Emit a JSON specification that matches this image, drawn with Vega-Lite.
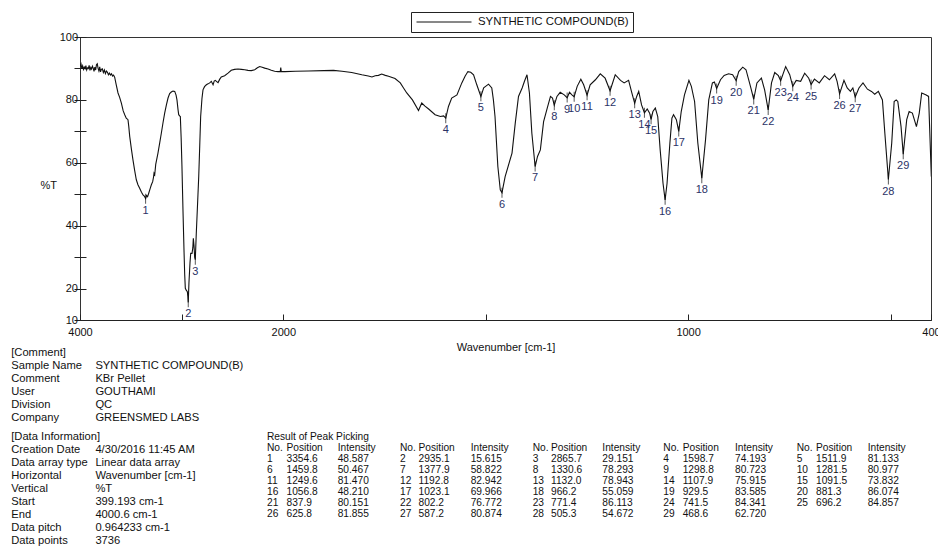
{
"$schema": "https://vega.github.io/schema/vega-lite/v6.json",
"width": 851, "height": 283,
"autosize": {"type": "none"},
"padding": {"left": 80, "top": 37, "right": 7, "bottom": 228},
"config": {"font": "Liberation Sans", "view": {"stroke": "#333", "strokeWidth": 1}, "axis": {"grid": false, "labelOverlap": false}},
"datasets": {
"spec": [{"w":4000,"t":90.6},{"w":3990,"t":91.4},{"w":3982,"t":89.9},{"w":3974,"t":90.8},{"w":3966,"t":89.7},{"w":3958,"t":90.4},{"w":3950,"t":89.9},{"w":3942,"t":90.9},{"w":3934,"t":89.5},{"w":3926,"t":90.2},{"w":3918,"t":90.0},{"w":3910,"t":91.0},{"w":3902,"t":89.4},{"w":3894,"t":90.3},{"w":3886,"t":89.8},{"w":3878,"t":90.7},{"w":3870,"t":90.1},{"w":3862,"t":89.1},{"w":3854,"t":90.4},{"w":3846,"t":89.5},{"w":3838,"t":91.2},{"w":3830,"t":91.5},{"w":3822,"t":90.0},{"w":3814,"t":89.2},{"w":3806,"t":90.5},{"w":3798,"t":88.9},{"w":3790,"t":89.7},{"w":3780,"t":89.9},{"w":3770,"t":88.7},{"w":3760,"t":89.5},{"w":3750,"t":88.4},{"w":3740,"t":89.2},{"w":3730,"t":88.8},{"w":3720,"t":88.0},{"w":3710,"t":88.5},{"w":3700,"t":87.9},{"w":3690,"t":88.3},{"w":3680,"t":87.6},{"w":3670,"t":87.9},{"w":3659,"t":87.2},{"w":3645,"t":85.0},{"w":3626,"t":82.2},{"w":3610,"t":80.8},{"w":3593,"t":79.0},{"w":3575,"t":76.5},{"w":3560,"t":75.3},{"w":3545,"t":74.2},{"w":3528,"t":73.7},{"w":3520,"t":71.5},{"w":3511,"t":68.4},{"w":3495,"t":64.5},{"w":3479,"t":60.9},{"w":3462,"t":57.5},{"w":3446,"t":54.6},{"w":3430,"t":53.0},{"w":3413,"t":51.9},{"w":3395,"t":50.6},{"w":3380,"t":49.8},{"w":3365,"t":49.3},{"w":3354.6,"t":48.6},{"w":3345,"t":49.6},{"w":3335,"t":49.2},{"w":3324,"t":50.3},{"w":3310,"t":51.8},{"w":3298,"t":53.0},{"w":3285,"t":54.0},{"w":3277,"t":55.4},{"w":3272,"t":56.7},{"w":3265,"t":56.2},{"w":3255,"t":59.5},{"w":3233,"t":63.1},{"w":3215,"t":66.5},{"w":3200,"t":69.4},{"w":3183,"t":72.8},{"w":3167,"t":75.8},{"w":3150,"t":78.4},{"w":3134,"t":80.6},{"w":3118,"t":82.0},{"w":3102,"t":82.5},{"w":3085,"t":82.8},{"w":3068,"t":82.7},{"w":3055,"t":81.5},{"w":3046,"t":80.0},{"w":3036,"t":77.0},{"w":3029,"t":75.3},{"w":3020,"t":74.9},{"w":3013,"t":74.7},{"w":3005,"t":68.0},{"w":2997,"t":58.8},{"w":2987,"t":45.0},{"w":2977,"t":32.3},{"w":2970,"t":24.5},{"w":2964,"t":20.1},{"w":2955,"t":19.5},{"w":2944,"t":19.0},{"w":2938,"t":17.0},{"w":2935.1,"t":15.6},{"w":2928,"t":22.0},{"w":2918,"t":28.1},{"w":2911,"t":31.2},{"w":2898,"t":31.2},{"w":2890,"t":33.0},{"w":2885,"t":36.0},{"w":2878,"t":33.5},{"w":2872,"t":30.0},{"w":2865.7,"t":29.2},{"w":2856,"t":37.6},{"w":2844,"t":46.5},{"w":2832,"t":55.6},{"w":2822,"t":65.5},{"w":2813,"t":74.7},{"w":2800,"t":80.5},{"w":2790,"t":83.2},{"w":2775,"t":84.2},{"w":2757,"t":84.8},{"w":2740,"t":85.1},{"w":2724,"t":85.4},{"w":2708,"t":85.9},{"w":2691,"t":84.8},{"w":2680,"t":86.0},{"w":2669,"t":86.2},{"w":2655,"t":85.8},{"w":2642,"t":85.5},{"w":2625,"t":86.6},{"w":2610,"t":87.3},{"w":2577,"t":87.7},{"w":2544,"t":88.5},{"w":2512,"t":89.4},{"w":2480,"t":89.7},{"w":2446,"t":89.8},{"w":2413,"t":89.7},{"w":2380,"t":89.6},{"w":2347,"t":89.4},{"w":2315,"t":89.3},{"w":2281,"t":89.6},{"w":2255,"t":90.2},{"w":2232,"t":90.6},{"w":2208,"t":90.4},{"w":2183,"t":90.1},{"w":2150,"t":89.8},{"w":2118,"t":89.4},{"w":2085,"t":89.1},{"w":2052,"t":89.0},{"w":2030,"t":89.0},{"w":2025,"t":90.3},{"w":2020,"t":89.0},{"w":1996,"t":89.0},{"w":1970,"t":89.1},{"w":1938,"t":89.2},{"w":1900,"t":89.3},{"w":1876,"t":89.4},{"w":1855,"t":89.1},{"w":1831,"t":88.7},{"w":1806,"t":88.0},{"w":1790,"t":87.6},{"w":1781,"t":87.3},{"w":1773,"t":87.7},{"w":1765,"t":87.8},{"w":1757,"t":88.2},{"w":1748,"t":87.8},{"w":1740,"t":87.5},{"w":1724,"t":86.8},{"w":1711,"t":85.4},{"w":1703,"t":83.8},{"w":1695,"t":82.2},{"w":1681,"t":80.0},{"w":1666,"t":76.6},{"w":1658,"t":79.0},{"w":1650,"t":78.0},{"w":1641,"t":77.1},{"w":1625,"t":75.3},{"w":1612,"t":74.7},{"w":1604,"t":74.9},{"w":1598.7,"t":74.2},{"w":1592,"t":77.9},{"w":1584,"t":80.6},{"w":1571,"t":81.6},{"w":1565,"t":83.5},{"w":1559,"t":85.4},{"w":1551,"t":87.5},{"w":1544,"t":89.0},{"w":1537,"t":88.8},{"w":1530,"t":88.0},{"w":1522,"t":84.8},{"w":1511.9,"t":81.1},{"w":1505,"t":83.8},{"w":1493,"t":85.0},{"w":1485,"t":83.8},{"w":1481,"t":80.0},{"w":1477,"t":74.7},{"w":1470,"t":58.8},{"w":1464,"t":51.4},{"w":1459.8,"t":50.5},{"w":1452,"t":55.6},{"w":1435,"t":63.1},{"w":1427,"t":72.6},{"w":1419,"t":81.1},{"w":1410,"t":83.8},{"w":1404,"t":86.0},{"w":1398,"t":88.0},{"w":1392,"t":82.2},{"w":1386,"t":69.4},{"w":1377.9,"t":58.8},{"w":1372,"t":62.0},{"w":1365,"t":64.1},{"w":1357,"t":73.1},{"w":1348,"t":77.4},{"w":1340,"t":81.1},{"w":1335,"t":80.6},{"w":1330.6,"t":78.3},{"w":1324,"t":81.1},{"w":1316,"t":82.4},{"w":1306,"t":81.6},{"w":1298.8,"t":80.7},{"w":1293,"t":82.4},{"w":1287,"t":81.6},{"w":1281.5,"t":81.0},{"w":1274,"t":84.3},{"w":1265,"t":86.6},{"w":1258,"t":84.8},{"w":1249.6,"t":81.5},{"w":1242,"t":84.8},{"w":1229,"t":86.4},{"w":1217,"t":88.3},{"w":1205,"t":86.9},{"w":1192.8,"t":82.9},{"w":1180,"t":88.0},{"w":1167,"t":86.2},{"w":1158,"t":85.4},{"w":1147,"t":86.2},{"w":1139,"t":82.2},{"w":1132,"t":78.9},{"w":1127,"t":81.1},{"w":1122,"t":82.7},{"w":1115,"t":78.4},{"w":1107.9,"t":75.9},{"w":1101,"t":77.1},{"w":1095,"t":75.8},{"w":1091.5,"t":73.8},{"w":1087,"t":76.3},{"w":1081,"t":77.4},{"w":1075,"t":74.7},{"w":1069,"t":64.1},{"w":1062,"t":53.5},{"w":1056.8,"t":48.2},{"w":1052,"t":53.5},{"w":1045,"t":66.3},{"w":1040,"t":74.2},{"w":1036,"t":75.3},{"w":1029,"t":73.7},{"w":1023.1,"t":70.0},{"w":1017,"t":76.3},{"w":1009,"t":81.6},{"w":998,"t":86.2},{"w":992,"t":84.3},{"w":984,"t":79.5},{"w":976,"t":66.3},{"w":966.2,"t":55.1},{"w":957,"t":67.3},{"w":949,"t":80.0},{"w":940,"t":85.4},{"w":935,"t":85.7},{"w":929.5,"t":83.6},{"w":920,"t":86.4},{"w":911,"t":87.8},{"w":900,"t":88.3},{"w":890,"t":88.0},{"w":881.3,"t":86.1},{"w":875,"t":89.0},{"w":865,"t":90.4},{"w":857,"t":89.6},{"w":846,"t":84.3},{"w":837.9,"t":80.2},{"w":830,"t":85.4},{"w":819,"t":86.9},{"w":811,"t":83.2},{"w":802.2,"t":76.8},{"w":794,"t":85.4},{"w":786,"t":88.7},{"w":777,"t":87.7},{"w":771.4,"t":86.1},{"w":759,"t":90.6},{"w":749,"t":88.0},{"w":741.5,"t":84.3},{"w":733,"t":86.2},{"w":722,"t":85.9},{"w":712,"t":88.5},{"w":702,"t":86.9},{"w":696.2,"t":84.9},{"w":688,"t":86.6},{"w":676,"t":85.4},{"w":663,"t":87.7},{"w":651,"t":86.4},{"w":638,"t":88.3},{"w":632,"t":85.9},{"w":625.8,"t":81.9},{"w":615,"t":86.2},{"w":607,"t":83.8},{"w":599,"t":82.7},{"w":593,"t":83.8},{"w":587.2,"t":80.9},{"w":578,"t":83.8},{"w":568,"t":85.4},{"w":557,"t":83.4},{"w":547,"t":82.7},{"w":539,"t":81.8},{"w":530,"t":82.7},{"w":520,"t":80.0},{"w":514,"t":69.4},{"w":505.3,"t":54.7},{"w":497,"t":66.3},{"w":491,"t":79.5},{"w":486,"t":80.0},{"w":482,"t":79.5},{"w":474,"t":71.5},{"w":468.6,"t":62.7},{"w":460,"t":73.7},{"w":454,"t":76.3},{"w":446,"t":75.8},{"w":436,"t":71.5},{"w":429,"t":75.8},{"w":423,"t":82.2},{"w":413,"t":81.6},{"w":406,"t":81.1},{"w":399.2,"t":55.6}],
"peaks": [{"n":1,"p":3354.6,"i":48.587},{"n":2,"p":2935.1,"i":15.615},{"n":3,"p":2865.7,"i":29.151},{"n":4,"p":1598.7,"i":74.193},{"n":5,"p":1511.9,"i":81.133},{"n":6,"p":1459.8,"i":50.467},{"n":7,"p":1377.9,"i":58.822},{"n":8,"p":1330.6,"i":78.293},{"n":9,"p":1298.8,"i":80.723},{"n":10,"p":1281.5,"i":80.977},{"n":11,"p":1249.6,"i":81.47},{"n":12,"p":1192.8,"i":82.942},{"n":13,"p":1132.0,"i":78.943},{"n":14,"p":1107.9,"i":75.915},{"n":15,"p":1091.5,"i":73.832},{"n":16,"p":1056.8,"i":48.21},{"n":17,"p":1023.1,"i":69.966},{"n":18,"p":966.2,"i":55.059},{"n":19,"p":929.5,"i":83.585},{"n":20,"p":881.3,"i":86.074},{"n":21,"p":837.9,"i":80.151},{"n":22,"p":802.2,"i":76.772},{"n":23,"p":771.4,"i":86.113},{"n":24,"p":741.5,"i":84.341},{"n":25,"p":696.2,"i":84.857},{"n":26,"p":625.8,"i":81.855},{"n":27,"p":587.2,"i":80.874},{"n":28,"p":505.3,"i":54.672},{"n":29,"p":468.6,"i":62.72}],
"info": [{"r":0,"c":0,"t":"[Comment]"},{"r":1,"c":0,"t":"Sample Name"},{"r":1,"c":1,"t":"SYNTHETIC COMPOUND(B)"},{"r":2,"c":0,"t":"Comment"},{"r":2,"c":1,"t":"KBr Pellet"},{"r":3,"c":0,"t":"User"},{"r":3,"c":1,"t":"GOUTHAMI"},{"r":4,"c":0,"t":"Division"},{"r":4,"c":1,"t":"QC"},{"r":5,"c":0,"t":"Company"},{"r":5,"c":1,"t":"GREENSMED LABS"},{"r":6,"c":0,"t":"[Data Information]"},{"r":7,"c":0,"t":"Creation Date"},{"r":7,"c":1,"t":"4/30/2016 11:45 AM"},{"r":8,"c":0,"t":"Data array type"},{"r":8,"c":1,"t":"Linear data array"},{"r":9,"c":0,"t":"Horizontal"},{"r":9,"c":1,"t":"Wavenumber [cm-1]"},{"r":10,"c":0,"t":"Vertical"},{"r":10,"c":1,"t":"%T"},{"r":11,"c":0,"t":"Start"},{"r":11,"c":1,"t":"399.193 cm-1"},{"r":12,"c":0,"t":"End"},{"r":12,"c":1,"t":"4000.6 cm-1"},{"r":13,"c":0,"t":"Data pitch"},{"r":13,"c":1,"t":"0.964233 cm-1"},{"r":14,"c":0,"t":"Data points"},{"r":14,"c":1,"t":"3736"}],
"table": [{"l":0,"c":0,"t":"Result of Peak Picking"},
{"l":1,"c":0,"t":"No."},{"l":1,"c":1,"t":"Position"},{"l":1,"c":2,"t":"Intensity"},{"l":1,"c":3,"t":"No."},{"l":1,"c":4,"t":"Position"},{"l":1,"c":5,"t":"Intensity"},{"l":1,"c":6,"t":"No."},{"l":1,"c":7,"t":"Position"},{"l":1,"c":8,"t":"Intensity"},{"l":1,"c":9,"t":"No."},{"l":1,"c":10,"t":"Position"},{"l":1,"c":11,"t":"Intensity"},{"l":1,"c":12,"t":"No."},{"l":1,"c":13,"t":"Position"},{"l":1,"c":14,"t":"Intensity"},
{"l":2,"c":0,"t":"1"},{"l":2,"c":1,"t":"3354.6"},{"l":2,"c":2,"t":"48.587"},{"l":2,"c":3,"t":"2"},{"l":2,"c":4,"t":"2935.1"},{"l":2,"c":5,"t":"15.615"},{"l":2,"c":6,"t":"3"},{"l":2,"c":7,"t":"2865.7"},{"l":2,"c":8,"t":"29.151"},{"l":2,"c":9,"t":"4"},{"l":2,"c":10,"t":"1598.7"},{"l":2,"c":11,"t":"74.193"},{"l":2,"c":12,"t":"5"},{"l":2,"c":13,"t":"1511.9"},{"l":2,"c":14,"t":"81.133"},
{"l":3,"c":0,"t":"6"},{"l":3,"c":1,"t":"1459.8"},{"l":3,"c":2,"t":"50.467"},{"l":3,"c":3,"t":"7"},{"l":3,"c":4,"t":"1377.9"},{"l":3,"c":5,"t":"58.822"},{"l":3,"c":6,"t":"8"},{"l":3,"c":7,"t":"1330.6"},{"l":3,"c":8,"t":"78.293"},{"l":3,"c":9,"t":"9"},{"l":3,"c":10,"t":"1298.8"},{"l":3,"c":11,"t":"80.723"},{"l":3,"c":12,"t":"10"},{"l":3,"c":13,"t":"1281.5"},{"l":3,"c":14,"t":"80.977"},
{"l":4,"c":0,"t":"11"},{"l":4,"c":1,"t":"1249.6"},{"l":4,"c":2,"t":"81.470"},{"l":4,"c":3,"t":"12"},{"l":4,"c":4,"t":"1192.8"},{"l":4,"c":5,"t":"82.942"},{"l":4,"c":6,"t":"13"},{"l":4,"c":7,"t":"1132.0"},{"l":4,"c":8,"t":"78.943"},{"l":4,"c":9,"t":"14"},{"l":4,"c":10,"t":"1107.9"},{"l":4,"c":11,"t":"75.915"},{"l":4,"c":12,"t":"15"},{"l":4,"c":13,"t":"1091.5"},{"l":4,"c":14,"t":"73.832"},
{"l":5,"c":0,"t":"16"},{"l":5,"c":1,"t":"1056.8"},{"l":5,"c":2,"t":"48.210"},{"l":5,"c":3,"t":"17"},{"l":5,"c":4,"t":"1023.1"},{"l":5,"c":5,"t":"69.966"},{"l":5,"c":6,"t":"18"},{"l":5,"c":7,"t":"966.2"},{"l":5,"c":8,"t":"55.059"},{"l":5,"c":9,"t":"19"},{"l":5,"c":10,"t":"929.5"},{"l":5,"c":11,"t":"83.585"},{"l":5,"c":12,"t":"20"},{"l":5,"c":13,"t":"881.3"},{"l":5,"c":14,"t":"86.074"},
{"l":6,"c":0,"t":"21"},{"l":6,"c":1,"t":"837.9"},{"l":6,"c":2,"t":"80.151"},{"l":6,"c":3,"t":"22"},{"l":6,"c":4,"t":"802.2"},{"l":6,"c":5,"t":"76.772"},{"l":6,"c":6,"t":"23"},{"l":6,"c":7,"t":"771.4"},{"l":6,"c":8,"t":"86.113"},{"l":6,"c":9,"t":"24"},{"l":6,"c":10,"t":"741.5"},{"l":6,"c":11,"t":"84.341"},{"l":6,"c":12,"t":"25"},{"l":6,"c":13,"t":"696.2"},{"l":6,"c":14,"t":"84.857"},
{"l":7,"c":0,"t":"26"},{"l":7,"c":1,"t":"625.8"},{"l":7,"c":2,"t":"81.855"},{"l":7,"c":3,"t":"27"},{"l":7,"c":4,"t":"587.2"},{"l":7,"c":5,"t":"80.874"},{"l":7,"c":6,"t":"28"},{"l":7,"c":7,"t":"505.3"},{"l":7,"c":8,"t":"54.672"},{"l":7,"c":9,"t":"29"},{"l":7,"c":10,"t":"468.6"},{"l":7,"c":11,"t":"62.720"}]
},
"layer": [
{"layer": [
 {"data": {"name": "spec"}, "mark": {"type": "line", "strokeWidth": 1.1, "clip": true},
  "encoding": {
   "x": {"field": "w", "type": "quantitative", "title": "Wavenumber [cm-1]",
     "scale": {"domain": [4000, 2000, 400], "range": [0, 203.3, 851], "nice": false, "zero": false},
     "axis": {"values": [4000, 3000, 2000, 1500, 1000, 500, 400], "format": "d", "tickCount": 30,
       "labelExpr": "datum.value==3000||datum.value==1500||datum.value==500 ? '' : datum.label",
       "tickSize": -6, "labelPadding": 12.5, "domainColor": "#222", "tickColor": "#222",
       "labelFontSize": 11, "labelColor": "#111", "labelFlush": false, "labelOverlap": false, "labelBound": false,
       "titleFontSize": 11, "titleFontWeight": "normal", "titleColor": "#111", "titleBaseline": "middle", "titleY": 27}},
   "y": {"field": "t", "type": "quantitative", "title": "%T",
     "scale": {"domain": [10, 100], "nice": false, "zero": false},
     "axis": {"values": [10, 20, 30, 40, 50, 60, 70, 80, 90, 100], "format": "d", "tickCount": 30,
       "labelExpr": "datum.value==100||datum.value==80||datum.value==60||datum.value==40||datum.value==20||datum.value==10 ? datum.label : ''",
       "domain": false, "offset": -6, "tickSize": 12, "tickColor": "#222", "labelPadding": -3.5,
       "labelFontSize": 11, "labelColor": "#111", "labelOverlap": false,
       "titleAngle": 0, "titleAlign": "left", "titleBaseline": "middle", "titleX": -46, "titleY": 148,
       "titleFontSize": 11, "titleFontWeight": "normal", "titleColor": "#111"}},
   "color": {"datum": "SYNTHETIC COMPOUND(B)", "type": "nominal", "scale": {"range": ["#111"]},
     "legend": {"orient": "none", "legendX": 331, "legendY": -25, "title": null, "strokeColor": "#222", "fillColor": "white",
       "padding": 4, "symbolType": "M-5,0H5", "symbolSize": 121, "symbolStrokeWidth": 1, "symbolOffset": 23, "labelOffset": 28,
       "labelFontSize": 11.4, "labelColor": "#111", "labelLimit": 0}}
  }},
 {"data": {"name": "peaks"}, "mark": {"type": "tick", "orient": "vertical", "size": 10, "thickness": 1, "color": "#111"},
  "encoding": {"x": {"field": "p", "type": "quantitative", "title": "Wavenumber [cm-1]"}, "y": {"field": "i", "type": "quantitative", "title": "%T"}}},
 {"data": {"name": "peaks"}, "mark": {"type": "text", "dy": 12, "fontSize": 11, "baseline": "middle", "align": "center", "color": "#2b3266"},
  "encoding": {"x": {"field": "p", "type": "quantitative", "title": "Wavenumber [cm-1]"}, "y": {"field": "i", "type": "quantitative", "title": "%T"}, "text": {"field": "n"}}}
]},
{"data": {"name": "info"}, "mark": {"type": "text", "align": "left", "baseline": "middle", "fontSize": 11.2, "color": "#111"},
 "encoding": {
  "x": {"field": "c", "type": "quantitative", "scale": {"domain": [0, 1], "range": [-68.8, 15.4], "nice": false, "zero": false}, "axis": null},
  "y": {"field": "r", "type": "quantitative", "scale": {"domain": [0, 5, 6, 14], "range": [316.3, 381.3, 399.7, 504.3], "nice": false, "zero": false}, "axis": null},
  "text": {"field": "t"}}},
{"data": {"name": "table"}, "mark": {"type": "text", "align": "left", "baseline": "middle", "fontSize": 10.2, "color": "#111"},
 "encoding": {
  "x": {"field": "c", "type": "quantitative", "scale": {"domain": [0,1,2,3,4,5,6,7,8,9,10,11,12,13,14], "range": [187,206.5,257.7,320,338.5,390.7,452.7,471,522.3,583.3,602.7,655,716.7,736,787.7], "nice": false, "zero": false}, "axis": null},
  "y": {"field": "l", "type": "quantitative", "scale": {"domain": [0, 7], "range": [399.5, 477], "nice": false, "zero": false}, "axis": null},
  "text": {"field": "t"}}}
],
"resolve": {"scale": {"x": "independent", "y": "independent"}}
}
